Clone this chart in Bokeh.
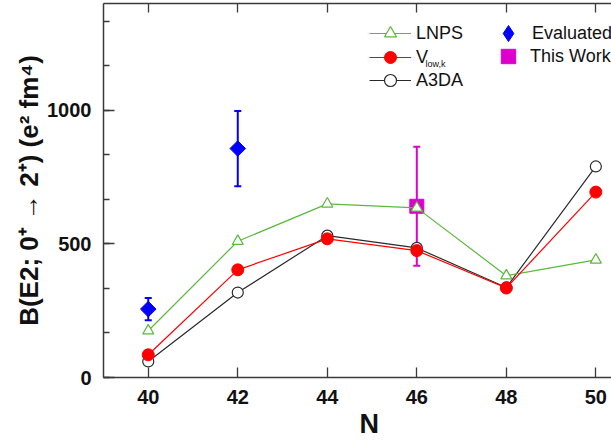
from bokeh.plotting import figure
from bokeh.models import (Range1d, LinearAxis, SingleIntervalTicker, FixedTicker, Legend,
                          LegendItem, Label, Whisker, TeeHead, ColumnDataSource, Title)
from bokeh.embed import file_html
from bokeh.resources import INLINE
import math

# ---------------- data ----------------
N = [40, 42, 44, 46, 48, 50]
lnps = [175, 510, 650, 635, 381, 440]
vlowk = [85, 403, 519, 475, 335, 694]
a3da = [60, 318, 531, 485, 337, 790]

eval_N = [40, 42]
eval_val = [256, 857]
eval_err = [42, 141]

work_N = [46]
work_val = [641]
work_err = [223]

x_ticks = [40, 42, 44, 46, 48, 50]
y_major = 500

FONT = "Liberation Sans"
AX = "#3a3a3a"
TXT = "#111111"
GREEN = "#5cb83c"
RED = "#ff0000"
BLACK = "#2a2a2a"
BLUE = "#0000ff"
MAGENTA = "#dd00cc"

p = figure(width=611, height=441,
           x_range=Range1d(39, 50.35), y_range=Range1d(0, 1400),
           output_backend="svg", toolbar_location=None,
           min_border_left=103, min_border_right=0, min_border_top=3, min_border_bottom=64)
p.outline_line_color = None
p.xgrid.grid_line_color = None
p.ygrid.grid_line_color = None
p.background_fill_color = "white"
p.border_fill_color = "white"

# bottom axis
xa = p.xaxis[0]
xa.ticker = FixedTicker(ticks=x_ticks)
xa.major_tick_in = 10
xa.major_tick_out = 0
xa.minor_tick_line_color = None
xa.axis_line_color = AX
xa.axis_line_width = 1.5
xa.major_tick_line_color = AX
xa.major_tick_line_width = 1.3
xa.major_label_text_font = FONT
xa.major_label_text_font_style = "bold"
xa.major_label_text_font_size = "20px"
xa.major_label_text_color = TXT
xa.major_label_standoff = 12

# left axis
ya = p.yaxis[0]
ya.ticker = SingleIntervalTicker(interval=y_major, num_minor_ticks=3)
ya.major_tick_in = 11
ya.major_tick_out = 0
ya.minor_tick_in = 6
ya.minor_tick_out = 0
ya.axis_line_color = AX
ya.axis_line_width = 1.5
ya.major_tick_line_color = AX
ya.minor_tick_line_color = AX
ya.major_tick_line_width = 1.3
ya.minor_tick_line_width = 1.3
ya.major_label_text_font = FONT
ya.major_label_text_font_style = "bold"
ya.major_label_text_font_size = "20px"
ya.major_label_text_color = TXT
ya.major_label_standoff = 12
ya.axis_label = "B(E2; 0\u207a \u2192 2\u207a) (e\u00b2 fm\u2074)"
ya.axis_label_text_font = FONT
ya.axis_label_text_font_style = "bold"
ya.axis_label_text_font_size = "26px"
ya.axis_label_text_color = TXT
ya.axis_label_standoff = 0

# top axis (ticks only)
ta = LinearAxis(ticker=FixedTicker(ticks=x_ticks), major_tick_in=9, major_tick_out=0,
                minor_tick_line_color=None, axis_line_color=AX, axis_line_width=1.5,
                major_tick_line_color=AX, major_tick_line_width=1.3,
                major_label_text_font_size="0px", major_label_standoff=0,
                major_label_overrides={t: "" for t in x_ticks})
p.add_layout(ta, "above")

# x-axis title
p.add_layout(Title(text="N", align="left", offset=256, standoff=0,
                   text_font=FONT, text_font_size="27px", text_font_style="bold",
                   text_color=TXT), "below")

# experimental error bars
esrc = ColumnDataSource(dict(x=eval_N, y=eval_val,
                             lo=[v - e for v, e in zip(eval_val, eval_err)],
                             hi=[v + e for v, e in zip(eval_val, eval_err)]))
wsrc = ColumnDataSource(dict(x=work_N, y=work_val,
                             lo=[v - e for v, e in zip(work_val, work_err)],
                             hi=[v + e for v, e in zip(work_val, work_err)]))
for src, col in ((esrc, BLUE), (wsrc, MAGENTA)):
    w = Whisker(base="x", lower="lo", upper="hi", source=src, line_color=col, line_width=2,
                upper_head=TeeHead(size=7, line_color=col, line_width=2),
                lower_head=TeeHead(size=7, line_color=col, line_width=2))
    p.add_layout(w)

e_sc = p.scatter("x", "y", source=esrc, marker="square", angle=math.pi / 4, size=11,
                 fill_color=BLUE, line_color=BLUE)
# legend key for the evaluated data (diamond shape; not drawn in the plot area)
e_key = p.scatter("x", "y", source=esrc, marker="diamond", fill_color=BLUE, line_color=BLUE,
                  visible=False)
w_sc = p.scatter("x", "y", source=wsrc, marker="square", size=14,
                 fill_color=MAGENTA, line_color=MAGENTA)

# theory series
a_line = p.line(N, a3da, line_color=BLACK, line_width=1.2)
a_sc = p.scatter(N, a3da, marker="circle", size=11, fill_color="white", line_color=BLACK, line_width=1.2)
l_line = p.line(N, lnps, line_color=GREEN, line_width=1.2)
l_sc = p.scatter(N, lnps, marker="triangle", size=11, fill_color="white", line_color=GREEN, line_width=1.2)
v_line = p.line(N, vlowk, line_color=RED, line_width=1.2)
v_sc = p.scatter(N, vlowk, marker="circle", size=12, fill_color=RED, line_color=RED)

common = dict(padding=0, margin=0, border_line_color=None, background_fill_alpha=0,
              inactive_fill_alpha=0,
              label_text_font=FONT, label_text_font_size="18px", label_text_color=TXT)

legends = [
    Legend(items=[LegendItem(label="LNPS", renderers=[l_line, l_sc])], location=(266, 329),
           glyph_width=42, glyph_height=30, label_height=30, label_standoff=5, **common),
    Legend(items=[LegendItem(label="V", renderers=[v_line, v_sc])], location=(266, 305),
           glyph_width=42, glyph_height=30, label_height=30, label_standoff=5, **common),
    Legend(items=[LegendItem(label="A3DA", renderers=[a_line, a_sc])], location=(266, 282),
           glyph_width=42, glyph_height=30, label_height=30, label_standoff=5, **common),
    Legend(items=[LegendItem(label="Evaluated", renderers=[e_key])], location=(385, 324),
           glyph_width=40, glyph_height=40, label_height=40, label_standoff=4, **common),
    Legend(items=[LegendItem(label="This Work", renderers=[w_sc])], location=(387, 303),
           glyph_width=36, glyph_height=36, label_height=36, label_standoff=4, **common),
]
for lg in legends:
    p.add_layout(lg)

# subscript of V_low,k
p.add_layout(Label(x=322, y=314, x_units="screen", y_units="screen", text="low,k",
                   text_font=FONT, text_font_size="9px", text_color=TXT,
                   text_baseline="alphabetic"))

open("out.html", "w").write(file_html(p, INLINE))
